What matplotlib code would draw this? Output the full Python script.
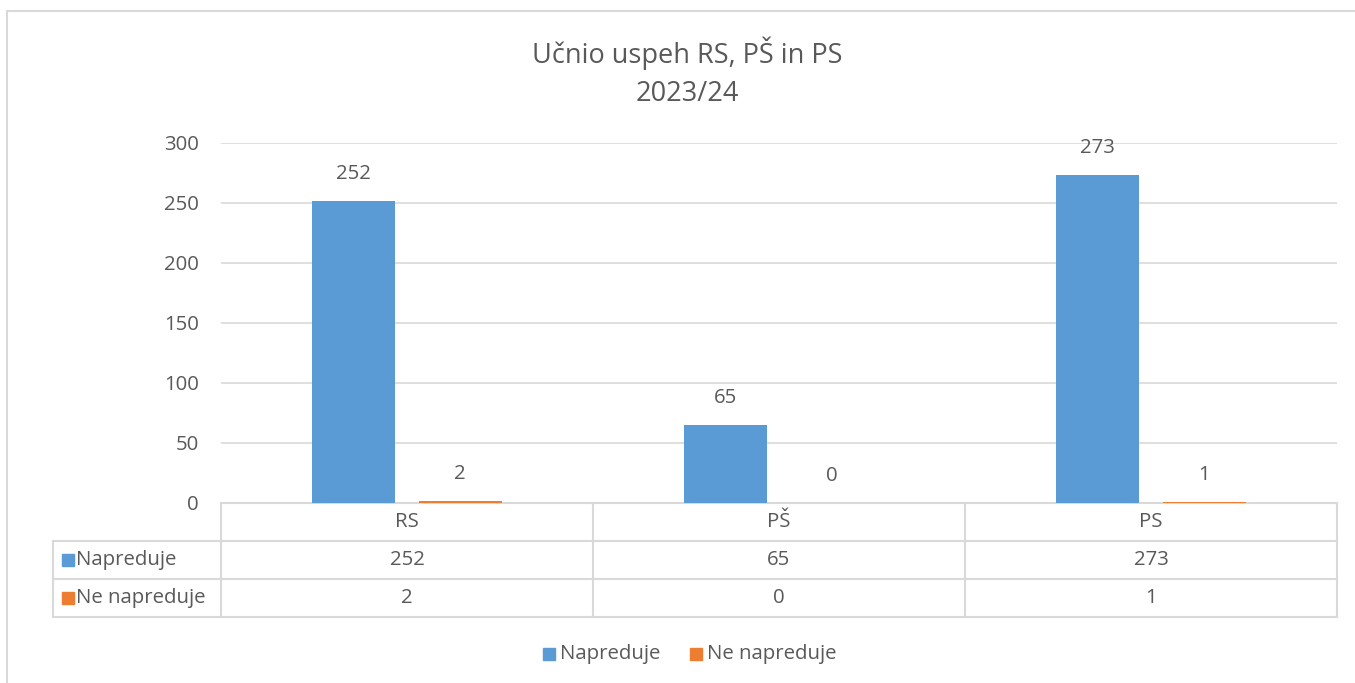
import numpy as np
import matplotlib
matplotlib.use('Agg')
from matplotlib import pyplot as plt
from matplotlib.lines import Line2D
from matplotlib.patches import Rectangle

plt.rcParams['font.family'] = ['Open Sans', 'DejaVu Sans']

categories = ['RS', 'PŠ', 'PS']
series_names = ['Napreduje', 'Ne napreduje']
napreduje = [252, 65, 273]
ne_napreduje = [2, 0, 1]
series_values = [napreduje, ne_napreduje]
colors = ['#5b9bd5', '#ed7d31']
yticks = [0, 50, 100, 150, 200, 250, 300]

W, H = 1355, 683
text_c = '#595959'
grid_c = '#d9d9d9'
fs = 14.7

fig = plt.figure(figsize=(W / 100, H / 100), dpi=100)


def fx(x):
    return x / W


def fy(y):
    return 1 - y / H


# plot area in pixels
left, right, top, bottom = 221, 1337, 143, 503
ax = fig.add_axes([fx(left), fy(bottom), fx(right - left), (bottom - top) / H])
ax.set_zorder(2)
ax.patch.set_alpha(0)

x = np.arange(len(categories))
bw = 0.223
offsets = [-0.143, 0.143]
for vals, off, c in zip(series_values, offsets, colors):
    bars = ax.bar(x + off, vals, width=bw, color=c, zorder=3)
    for b, v in zip(bars, vals):
        ax.annotate(str(v), (b.get_x() + b.get_width() / 2, v), xytext=(0, 27),
                    textcoords='offset pixels', ha='center', va='center',
                    fontsize=fs, color=text_c)

ax.set_xlim(-0.5, len(categories) - 0.5)
ax.set_ylim(0, 300)
ax.set_yticks(yticks)
ax.set_xticks([])
ax.grid(axis='y', color=grid_c, lw=1.2, zorder=0)
for s in ax.spines.values():
    s.set_visible(False)
ax.tick_params(axis='y', length=0, pad=16, labelsize=fs, labelcolor=text_c)

# title
fig.text(fx(687), fy(53), 'Učnio uspeh RS, PŠ in PS', ha='center', va='center',
         fontsize=19.5, color=text_c)
fig.text(fx(687), fy(94), '2023/24', ha='center', va='center',
         fontsize=19.5, color=text_c)

# outer chart border (left and top visible)
fig.add_artist(Line2D([fx(7), fx(7)], [fy(11), fy(H)], color=grid_c, lw=1.5))
fig.add_artist(Line2D([fx(7), fx(W)], [fy(11), fy(11)], color=grid_c, lw=1.5))

# data table
col_x = [221, 593, 965, 1337]
row_y = [503, 541, 579, 617]
label_left = 53


def hline(x0, x1, y):
    fig.add_artist(Line2D([fx(x0), fx(x1)], [fy(y), fy(y)], color=grid_c, lw=1.5,
                          zorder=1))


def vline(x, y0, y1):
    fig.add_artist(Line2D([fx(x), fx(x)], [fy(y0), fy(y1)], color=grid_c, lw=1.5,
                          zorder=1))


hline(col_x[0], col_x[-1], row_y[0])
for y in row_y[1:]:
    hline(label_left, col_x[-1], y)
for xc in col_x:
    vline(xc, row_y[0], row_y[-1])
vline(label_left, row_y[1], row_y[-1])

for i, cat in enumerate(categories):
    cx = (col_x[i] + col_x[i + 1]) / 2
    fig.text(fx(cx), fy((row_y[0] + row_y[1]) / 2), cat, ha='center', va='center',
             fontsize=fs, color=text_c)
    for r, vals in enumerate(series_values):
        cy = (row_y[r + 1] + row_y[r + 2]) / 2
        fig.text(fx(cx), fy(cy), str(vals[i]), ha='center', va='center',
                 fontsize=fs, color=text_c)

for r, (name, c) in enumerate(zip(series_names, colors)):
    cy = (row_y[r + 1] + row_y[r + 2]) / 2
    fig.add_artist(Rectangle((fx(62), fy(cy + 6)), 12 / W, 12 / H, color=c,
                             transform=fig.transFigure))
    fig.text(fx(76), fy(cy), name, ha='left', va='center', fontsize=fs, color=text_c)

# legend
leg_y = 654
leg_items = [(543, 560), (690, 707)]
for (sx, tx), name, c in zip(leg_items, series_names, colors):
    fig.add_artist(Rectangle((fx(sx), fy(leg_y + 6)), 12 / W, 12 / H, color=c,
                             transform=fig.transFigure))
    fig.text(fx(tx), fy(leg_y), name, ha='left', va='center', fontsize=fs, color=text_c)

fig.savefig('out.png', dpi=100)
